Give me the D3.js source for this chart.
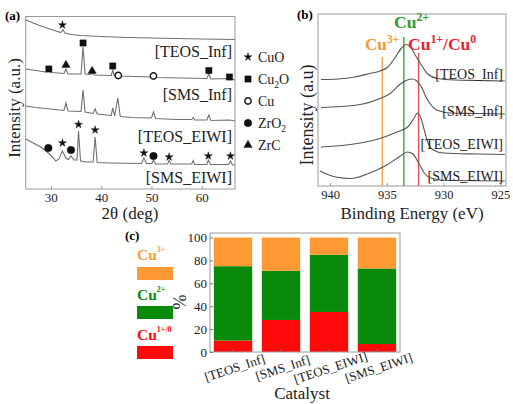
<!DOCTYPE html>
<html>
<head>
<meta charset="utf-8">
<script src="https://cdn.jsdelivr.net/npm/d3@7"></script>
<style>
body { margin: 0; background: #fff; }
svg { display: block; }
</style>
</head>
<body>
<svg id="fig" width="513" height="404"></svg>
<script>
// ---------- (a) XRD patterns: [2theta, intensity a.u.]
var xrdTicks = [30, 40, 50, 60];
var xrdNames = ['[TEOS_Inf]', '[SMS_Inf]', '[TEOS_EIWI]', '[SMS_EIWI]'];
var xrdTEOSInf = [[25,169],[26.5,166],[28,163],[29.5,160.5],[31,158],[32,156.5],[32.4,159.5],[32.8,156],[34,154.5],[36,153.5],[40,152.5],[45,151.5],[50,151],[55,150.5],[60,150],[66.6,149.5]];
var xrdSMSInf = [[25,120],[27,118.5],[29,117],[29.6,118],[30.2,116.5],[32.6,115.5],[33,120],[33.4,115],[36,115],[36.4,142],[36.8,115],[37.8,114.5],[38.2,116],[38.6,114],[42,113.5],[42.3,119],[42.6,113.5],[43.2,114.5],[43.6,113],[50,112],[50.4,113],[50.8,111.5],[61,110.5],[61.4,115],[61.8,110],[65.5,110.5],[66.6,109]];
var xrdTEOSEIWI = [[25,83],[27,81.5],[29,80.5],[32.6,78.5],[33,86],[33.4,78],[36,77.5],[36.4,99],[36.8,77],[38.4,75.5],[38.8,80],[39.2,75],[42,73.5],[42.3,81],[42.7,73],[43.3,91],[43.8,72.5],[46,71.5],[50,71],[50.4,77],[50.8,70.5],[55,69.5],[58,69.5],[58.3,71.5],[58.6,69],[61,69],[61.4,74],[61.8,68.5],[65.5,69],[66.6,68]];
var xrdSMSEIWI = [[25,50],[26.5,46],[28,42],[29,38],[29.5,36],[30.3,32],[31,28],[31.6,30],[32.3,38],[33,31],[33.5,29.5],[34,33],[34.6,29],[35.2,29],[35.5,58],[35.9,28],[37,27],[38.4,27],[38.8,52],[39.2,26.5],[42,26],[48,25.5],[48.5,31],[49,25.5],[50.1,25.5],[50.4,29],[50.8,25],[53.2,25],[53.5,28.5],[53.9,25],[58,25],[58.3,28.5],[58.6,24.5],[61,24.5],[61.3,29],[61.7,24.5],[65.3,24.5],[65.7,28],[66.1,24],[66.6,24]];
var xrdLabelLevel = [137, 94, 52, 11];

// phase markers: [2theta, intensity, phase]
var phaseMarks = [
  [32.3,164,'CuO'],
  [29.6,120,'Cu2O'],[33,124,'ZrC'],[36.4,146,'Cu2O'],[38.2,118,'ZrC'],[42.3,123,'Cu2O'],[43.4,113.5,'Cu'],[50.4,113,'Cu'],[61.4,118.5,'Cu2O'],[65.5,112,'Cu2O'],
  [29.5,41,'ZrO2'],[32.3,46,'CuO'],[34,39,'ZrO2'],[35.5,64.5,'CuO'],[38.8,59,'CuO'],[48.5,36,'CuO'],[50.4,33,'ZrO2'],[53.5,32,'CuO'],[61.3,33,'CuO'],[65.7,33,'CuO']
];
var phaseNames = ['CuO', 'Cu2O', 'Cu', 'ZrO2', 'ZrC'];

// ---------- (b) XPS Cu 2p3/2: [binding energy eV, intensity a.u.]
var xpsTicks = [940, 935, 930, 925];
var xpsTEOSInf = [[940.8,106.5],[939.3,107],[937.8,109],[936.5,112.5],[935.6,115],[934.9,119],[934.3,128],[933.7,138],[933.3,141.5],[932.9,139],[932.5,131],[931.9,120],[931.4,112],[930.5,107.5],[929,106],[927,105.5],[924.6,105]];
var xpsSMSInf = [[940.8,78.5],[937.6,81],[935.6,87.5],[934.7,92.5],[933.8,102],[933.2,106],[932.8,107],[932.4,105.5],[932,100],[931.5,88],[930.6,76],[929.4,73],[927,72.5],[924.6,72]];
var xpsTEOSEIWI = [[940.8,39],[937.6,42.5],[935.6,47.5],[934.1,54],[933.1,59.5],[932.6,68],[932.3,73],[932,68],[931.7,56],[931.4,44],[930.9,36],[930,33],[927,32],[924.6,31.5]];
var xpsSMSEIWI = [[940.9,15],[939.5,9],[938.2,7.5],[936.5,13],[935,21],[933.8,30],[933.2,34],[932.7,32],[932.2,23],[931.7,13],[931,7.5],[929.5,5.5],[924.6,5]];
var xpsLabelLevel = [111, 74, 41, 9];
var refEnergy = [935.4, 933.5, 932.2];     // Cu3+, Cu2+, Cu1+/Cu0
var refTop = [129, 149, 133];

// ---------- (c) Cu species distribution, %
var catalysts = ['[TEOS_Inf]', '[SMS_Inf]', '[TEOS_EIWI]', '[SMS_EIWI]'];
var cu10 = [10, 28, 35, 7];
var cu2 = [65, 43, 50, 66];
var cu3 = [25, 29, 15, 27];
var pctTicks = [0, 20, 40, 60, 80, 100];

var orange = '#ff9933', green = '#0a8a0a', red = '#ff0a0a';
var serif = 'Liberation Serif, DejaVu Serif, serif';

var svg = d3.select('#fig');

function richText(g, parts, size) {
  // parts: [text, 'sup'|'sub'|null]
  var shift = 0;
  parts.forEach(function(p) {
    var t = g.append('tspan').text(p[0]);
    var want = p[1] === 'sup' ? -size * 0.42 : p[1] === 'sub' ? size * 0.3 : 0;
    t.attr('dy', want - shift);
    shift = want;
    if (p[1]) t.attr('font-size', size * 0.68);
  });
}
function parseSub(name) {
  var m = name.match(/^([A-Za-z]+?)(\d)(.*)$/);
  return m ? [[m[1], null], [m[2], 'sub'], [m[3], null]] : [[name, null]];
}

// ================= panel (a)
var xa = d3.scaleLinear().domain([25, 66.6]).range([25.7, 235]);
var ya = d3.scaleLinear().domain([0, 172.5]).range([189, 16.5]);

svg.append('rect').attr('x', 25.7).attr('y', 16.5).attr('width', 209.3).attr('height', 172.5)
  .attr('fill', 'none').attr('stroke', '#9a9a9a');

var axA = svg.append('g').attr('transform', 'translate(0,189)')
  .call(d3.axisBottom(xa).tickValues(xrdTicks).tickSizeInner(-3).tickSizeOuter(0).tickPadding(4));
axA.select('.domain').remove();
axA.selectAll('line').attr('stroke', '#9a9a9a');
axA.selectAll('text').attr('font-size', 13).attr('fill', '#222');

var lineA = d3.line().x(function(d) { return xa(d[0]); }).y(function(d) { return ya(d[1]); });
[xrdTEOSInf, xrdSMSInf, xrdTEOSEIWI, xrdSMSEIWI].forEach(function(s) {
  svg.append('path').attr('d', lineA(s)).attr('fill', 'none').attr('stroke', '#707070').attr('stroke-width', 1.1);
});
xrdNames.forEach(function(n, i) {
  svg.append('text').attr('x', 232).attr('y', ya(xrdLabelLevel[i]) + 5).attr('text-anchor', 'end')
    .attr('font-size', 16).attr('fill', '#222').text(n);
});

var symFor = {
  'CuO': { t: d3.symbolStar, s: 20, fill: '#111' },
  'Cu2O': { t: d3.symbolSquare, s: 40, fill: '#111' },
  'Cu': { t: d3.symbolCircle, s: 32, fill: '#fff' },
  'ZrO2': { t: d3.symbolCircle, s: 46, fill: '#111' },
  'ZrC': { t: d3.symbolTriangle, s: 30, fill: '#111' }
};
function drawSym(x, y, ph) {
  var o = symFor[ph];
  svg.append('path').attr('d', d3.symbol().type(o.t).size(o.s)())
    .attr('transform', 'translate(' + x + ',' + y + ')')
    .attr('fill', o.fill).attr('stroke', '#111').attr('stroke-width', o.fill === '#fff' ? 1.4 : 0.4);
}
phaseMarks.forEach(function(m) { drawSym(xa(m[0]), ya(m[1]), m[2]); });

// legend (a)
phaseNames.forEach(function(n, i) {
  var y = 57 + i * 22;
  drawSym(248, y, n);
  var t = svg.append('text').attr('x', 258).attr('y', y + 5).attr('font-size', 14).attr('fill', '#222');
  richText(t, parseSub(n), 14);
});

svg.append('text').attr('transform', 'translate(20,108) rotate(-90)').attr('text-anchor', 'middle')
  .attr('font-size', 17).attr('fill', '#222').text('Intensity (a.u.)');
svg.append('text').attr('x', 130).attr('y', 219).attr('text-anchor', 'middle').attr('font-size', 17).attr('fill', '#222').text('2θ (deg)');
svg.append('text').attr('x', 5).attr('y', 20).attr('font-size', 13).attr('font-weight', 'bold').text('(a)');

// ================= panel (b)
var xb = d3.scaleLinear().domain([941.06, 924.5]).range([318, 506]);
var yb = d3.scaleLinear().domain([0, 172]).range([186, 14]);

svg.append('rect').attr('x', 318).attr('y', 14).attr('width', 188).attr('height', 172)
  .attr('fill', 'none').attr('stroke', '#9a9a9a');

var axB = svg.append('g').attr('transform', 'translate(0,186)')
  .call(d3.axisBottom(xb).tickValues(xpsTicks).tickSizeInner(-3).tickSizeOuter(0).tickPadding(4));
axB.select('.domain').remove();
axB.selectAll('line').attr('stroke', '#9a9a9a');
axB.selectAll('text').attr('font-size', 12.5).attr('fill', '#222');

var refColors = ['#f5a24a', '#3aa63a', '#e0505a'];
refEnergy.forEach(function(e, i) {
  svg.append('line').attr('x1', xb(e)).attr('x2', xb(e)).attr('y1', yb(refTop[i])).attr('y2', 186)
    .attr('stroke', refColors[i]).attr('stroke-width', 1.4);
});

var lineB = d3.line().x(function(d) { return xb(d[0]); }).y(function(d) { return yb(d[1]); }).curve(d3.curveMonotoneX);
[xpsTEOSInf, xpsSMSInf, xpsTEOSEIWI, xpsSMSEIWI].forEach(function(s) {
  svg.append('path').attr('d', lineB(s)).attr('fill', 'none').attr('stroke', '#555').attr('stroke-width', 1.1);
});
xrdNames.forEach(function(n, i) {
  svg.append('text').attr('x', 503).attr('y', yb(xpsLabelLevel[i]) + 4).attr('text-anchor', 'end')
    .attr('font-size', 14).attr('fill', '#222').text(n);
});

var t2 = svg.append('text').attr('x', 394).attr('y', 28).attr('font-size', 17.5).attr('font-weight', 'bold').attr('fill', '#2e9a2e');
richText(t2, [['Cu', null], ['2+', 'sup']], 17.5);
var t3 = svg.append('text').attr('x', 365).attr('y', 50).attr('font-size', 17).attr('font-weight', 'bold').attr('fill', '#f39a30');
richText(t3, [['Cu', null], ['3+', 'sup']], 17);
var t1 = svg.append('text').attr('x', 408).attr('y', 50).attr('font-size', 17.5).attr('font-weight', 'bold').attr('fill', '#e5262e');
richText(t1, [['Cu', null], ['1+', 'sup'], ['/Cu', null], ['0', 'sup']], 17.5);

svg.append('text').attr('transform', 'translate(313,115) rotate(-90)').attr('text-anchor', 'middle')
  .attr('font-size', 18).attr('fill', '#222').text('Intensity (a.u)');
svg.append('text').attr('x', 412).attr('y', 219).attr('text-anchor', 'middle').attr('font-size', 17).attr('fill', '#222').text('Binding Energy (eV)');
svg.append('text').attr('x', 297).attr('y', 19).attr('font-size', 13).attr('font-weight', 'bold').text('(b)');

// ================= panel (c)
var xc = d3.scaleBand().domain(catalysts).range([210, 400]).paddingInner(0.2).paddingOuter(0.08);
var yc = d3.scaleLinear().domain([0, 104]).range([352, 233]);

var rows = catalysts.map(function(c, i) { return { cat: c, cu10: cu10[i], cu2: cu2[i], cu3: cu3[i] }; });
var stack = d3.stack().keys(['cu10', 'cu2', 'cu3'])(rows);
var fills = { cu10: red, cu2: green, cu3: orange };

svg.append('g').selectAll('g').data(stack).join('g').attr('fill', function(s) { return fills[s.key]; })
  .selectAll('rect').data(function(s) { return s; }).join('rect')
  .attr('x', function(d) { return xc(d.data.cat); })
  .attr('width', xc.bandwidth())
  .attr('y', function(d) { return yc(d[1]); })
  .attr('height', function(d) { return yc(d[0]) - yc(d[1]); });

svg.append('rect').attr('x', 210).attr('y', 233).attr('width', 190).attr('height', 119)
  .attr('fill', 'none').attr('stroke', '#9a9a9a');

var axC = svg.append('g').attr('transform', 'translate(210,0)')
  .call(d3.axisLeft(yc).tickValues(pctTicks).tickSizeInner(-3).tickSizeOuter(0).tickPadding(3));
axC.select('.domain').remove();
axC.selectAll('line').attr('stroke', '#777');
axC.selectAll('text').attr('font-size', 13).attr('fill', '#222');

var axC2 = svg.append('g').attr('transform', 'translate(0,352)')
  .call(d3.axisBottom(xc).tickSizeInner(-3).tickSizeOuter(0));
axC2.select('.domain').remove();
axC2.selectAll('text').remove();
axC2.selectAll('line').attr('stroke', '#777');

svg.append('g').selectAll('text').data(catalysts).join('text')
  .attr('transform', function(d) { return 'translate(' + (xc(d) + xc.bandwidth() / 2 + 3) + ',372) rotate(-18)'; })
  .attr('text-anchor', 'middle').attr('font-size', 13).attr('fill', '#222').text(function(d) { return d; });

svg.append('text').attr('transform', 'translate(186,302) rotate(-90)').attr('text-anchor', 'middle')
  .attr('font-size', 18).attr('fill', '#222').text('%');
svg.append('text').attr('x', 302).attr('y', 399).attr('text-anchor', 'middle').attr('font-size', 17).attr('fill', '#222').text('Catalyst');
svg.append('text').attr('x', 125).attr('y', 240).attr('font-size', 13).attr('font-weight', 'bold').text('(c)');

// legend (c)
var legC = [
  { sup: '3+', col: orange, ty: 260, ry: 267 },
  { sup: '2+', col: green, ty: 300, ry: 306 },
  { sup: '1+/0', col: red, ty: 340, ry: 346 }
];
legC.forEach(function(l) {
  var t = svg.append('text').attr('x', 137).attr('y', l.ty).attr('font-size', 15.5).attr('font-weight', 'bold').attr('fill', l.col);
  t.append('tspan').text('Cu');
  t.append('tspan').attr('font-size', 8).attr('dy', -8).text(l.sup);
  svg.append('rect').attr('x', 137).attr('y', l.ry).attr('width', 36).attr('height', 13).attr('fill', l.col);
});

// every label in the serif face of the original
svg.selectAll('text').attr('font-family', serif).style('font-family', serif);
</script>
</body>
</html>
